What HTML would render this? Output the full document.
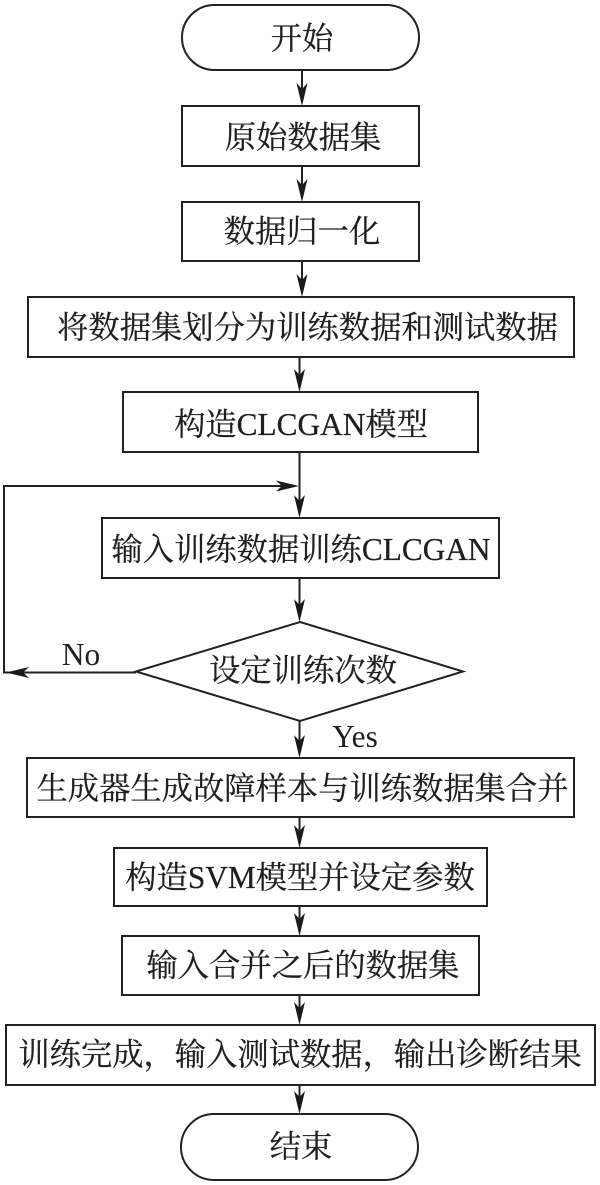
<!DOCTYPE html>
<html><head><meta charset="utf-8">
<style>
html,body{margin:0;padding:0;background:#fff;}
svg{display:block;}
text{font-family:"Liberation Serif","Noto Serif CJK SC",serif;font-size:31.3px;fill:#1f1f1f;stroke:#1f1f1f;stroke-width:.25;text-anchor:middle;}
.b{fill:none;stroke:#222;stroke-width:2;}
.a{fill:#1a1a1a;stroke:none;}
</style></head><body>
<svg width="600" height="1185" viewBox="0 0 600 1185" xmlns="http://www.w3.org/2000/svg">
<defs><path id="h" d="M0 0 L-5.5 -23 L0 -17 L5.5 -23 Z"/></defs>
<rect class="b" x="182" y="5" width="237" height="65" rx="32.5" ry="32.5"/>
<text x="302" y="49">开始</text>
<rect class="b" x="182" y="106" width="237" height="60"/>
<text x="303" y="148">原始数据集</text>
<rect class="b" x="182" y="202" width="237" height="59"/>
<text x="302" y="242">数据归一化</text>
<rect class="b" x="28" y="297" width="546" height="60"/>
<text x="307.5" y="338">将数据集划分为训练数据和测试数据</text>
<rect class="b" x="123" y="392" width="355" height="60"/>
<text x="301" y="435">构造CLCGAN模型</text>
<rect class="b" x="102" y="518" width="397" height="60"/>
<text x="301" y="560">输入训练数据训练CLCGAN</text>
<polygon class="b" points="300,622 463,671.5 300,721 136,671.5"/>
<text x="303" y="681">设定训练次数</text>
<rect class="b" x="27" y="758" width="547" height="59"/>
<text x="302.5" y="799">生成器生成故障样本与训练数据集合并</text>
<rect class="b" x="114" y="848" width="373" height="58"/>
<text x="300" y="888">构造SVM模型并设定参数</text>
<rect class="b" x="122" y="936" width="357" height="59"/>
<text x="303" y="976">输入合并之后的数据集</text>
<rect class="b" x="6" y="1025" width="589" height="60"/>
<text x="300" y="1065">训练完成，输入测试数据，输出诊断结果</text>
<rect class="b" x="181" y="1114" width="237" height="66" rx="33" ry="33"/>
<text x="301" y="1157">结束</text>
<text x="81" y="665" style="stroke-width:0">No</text>
<text x="355" y="747" style="stroke-width:0">Yes</text>
<g class="b">
<line x1="302" y1="70" x2="302" y2="90"/>
<line x1="302" y1="166" x2="302" y2="186"/>
<line x1="302" y1="261" x2="302" y2="281"/>
<line x1="299.5" y1="357" x2="299.5" y2="376"/>
<line x1="299.5" y1="452" x2="299.5" y2="502"/>
<line x1="299.5" y1="578" x2="299.5" y2="606"/>
<line x1="299.5" y1="721" x2="299.5" y2="742"/>
<line x1="299.5" y1="817" x2="299.5" y2="832"/>
<line x1="299.5" y1="906" x2="299.5" y2="920"/>
<line x1="299.5" y1="995" x2="299.5" y2="1009"/>
<line x1="299.5" y1="1085" x2="299.5" y2="1098"/>
<polyline points="136,672.5 4,672.5 4,486 285,486"/>
</g>
<g class="a">
<use href="#h" x="302" y="106"/>
<use href="#h" x="302" y="202"/>
<use href="#h" x="302" y="297"/>
<use href="#h" x="299.5" y="392"/>
<use href="#h" x="299.5" y="518"/>
<use href="#h" x="299.5" y="622"/>
<use href="#h" x="299.5" y="758"/>
<use href="#h" x="299.5" y="848"/>
<use href="#h" x="299.5" y="936"/>
<use href="#h" x="299.5" y="1025"/>
<use href="#h" x="299.5" y="1114"/>
<use href="#h" transform="translate(299,486) rotate(-90)"/>
<use href="#h" transform="translate(6,672.5) rotate(90)"/>
</g>
</svg>
</body></html>
